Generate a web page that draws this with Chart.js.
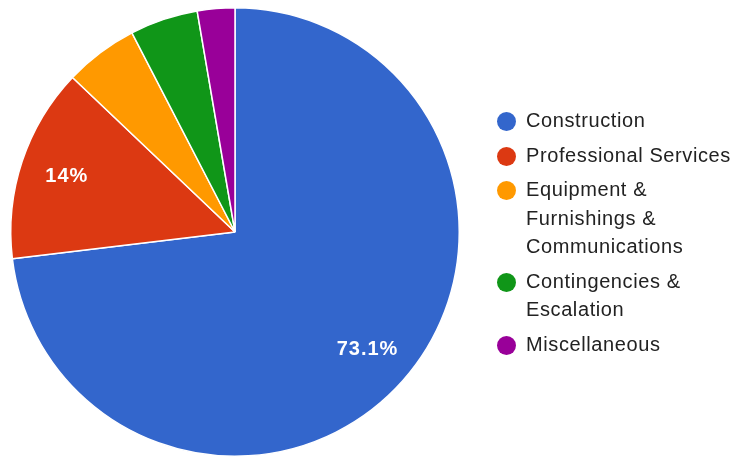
<!DOCTYPE html>
<html>
<head>
<meta charset="utf-8">
<script src="https://cdn.jsdelivr.net/npm/chart.js@4.4.1/dist/chart.umd.min.js"></script>
<style>
  body { margin: 0; background: #fff; }
  #wrap { position: relative; width: 735px; height: 459px; }
  #legend { position: absolute; left: 497px; top: 106px; font-family: Arial, "Liberation Sans", sans-serif; font-size: 20px; letter-spacing: 0.6px; color: #222; }
  #legend .item { display: flex; align-items: flex-start; margin-bottom: 6px; }
  #legend .dot { width: 19px; height: 19px; border-radius: 50%; flex: none; margin-top: 6px; margin-right: 10px; }
  #legend .txt { line-height: 28.5px; }
</style>
</head>
<body>
<div id="wrap">
  <canvas id="pie" width="735" height="459"></canvas>
  <div id="legend"></div>
</div>
<script>
const categories = ['Construction', 'Professional Services', 'Equipment & Furnishings & Communications', 'Contingencies & Escalation', 'Miscellaneous'];
const legendLines = [['Construction'], ['Professional Services'], ['Equipment &', 'Furnishings &', 'Communications'], ['Contingencies &', 'Escalation'], ['Miscellaneous']];
const shares = [73.1, 14, 5.3, 4.9, 2.7];
const colors = ['#3366cc', '#dc3912', '#ff9900', '#109618', '#990099'];

const pie = document.getElementById('pie').getContext('2d');

// percentage text inside the larger slices
const sliceLabels = {
  id: 'sliceLabels',
  afterDatasetsDraw(chart) {
    const ctx = chart.ctx;
    const meta = chart.getDatasetMeta(0);
    ctx.save();
    ctx.font = 'bold 20px Arial, "Liberation Sans", sans-serif';
    ctx.letterSpacing = '1px';
    ctx.fillStyle = '#fff';
    ctx.textAlign = 'center';
    ctx.textBaseline = 'middle';
    meta.data.forEach((arc, i) => {
      if (shares[i] < 10) return;
      const mid = (arc.startAngle + arc.endAngle) / 2;
      const r = arc.outerRadius * 0.79;
      ctx.fillText(shares[i] + '%', arc.x + Math.cos(mid) * r, arc.y + Math.sin(mid) * r);
    });
    ctx.restore();
  }
};

new Chart(pie, {
  type: 'pie',
  data: {
    labels: categories,
    datasets: [{
      data: shares,
      backgroundColor: colors,
      borderColor: '#fff',
      borderWidth: 1.5
    }]
  },
  options: {
    responsive: false,
    animation: false,
    layout: { padding: { left: 10, right: 275, top: 7, bottom: 2 } },
    plugins: {
      legend: { display: false },
      tooltip: { enabled: false }
    }
  },
  plugins: [sliceLabels]
});

const legend = document.getElementById('legend');
legendLines.forEach((lines, i) => {
  const item = document.createElement('div');
  item.className = 'item';
  const dot = document.createElement('span');
  dot.className = 'dot';
  dot.style.background = colors[i];
  const txt = document.createElement('span');
  txt.className = 'txt';
  txt.innerHTML = lines.join('<br>');
  item.appendChild(dot);
  item.appendChild(txt);
  legend.appendChild(item);
});
</script>
</body>
</html>
